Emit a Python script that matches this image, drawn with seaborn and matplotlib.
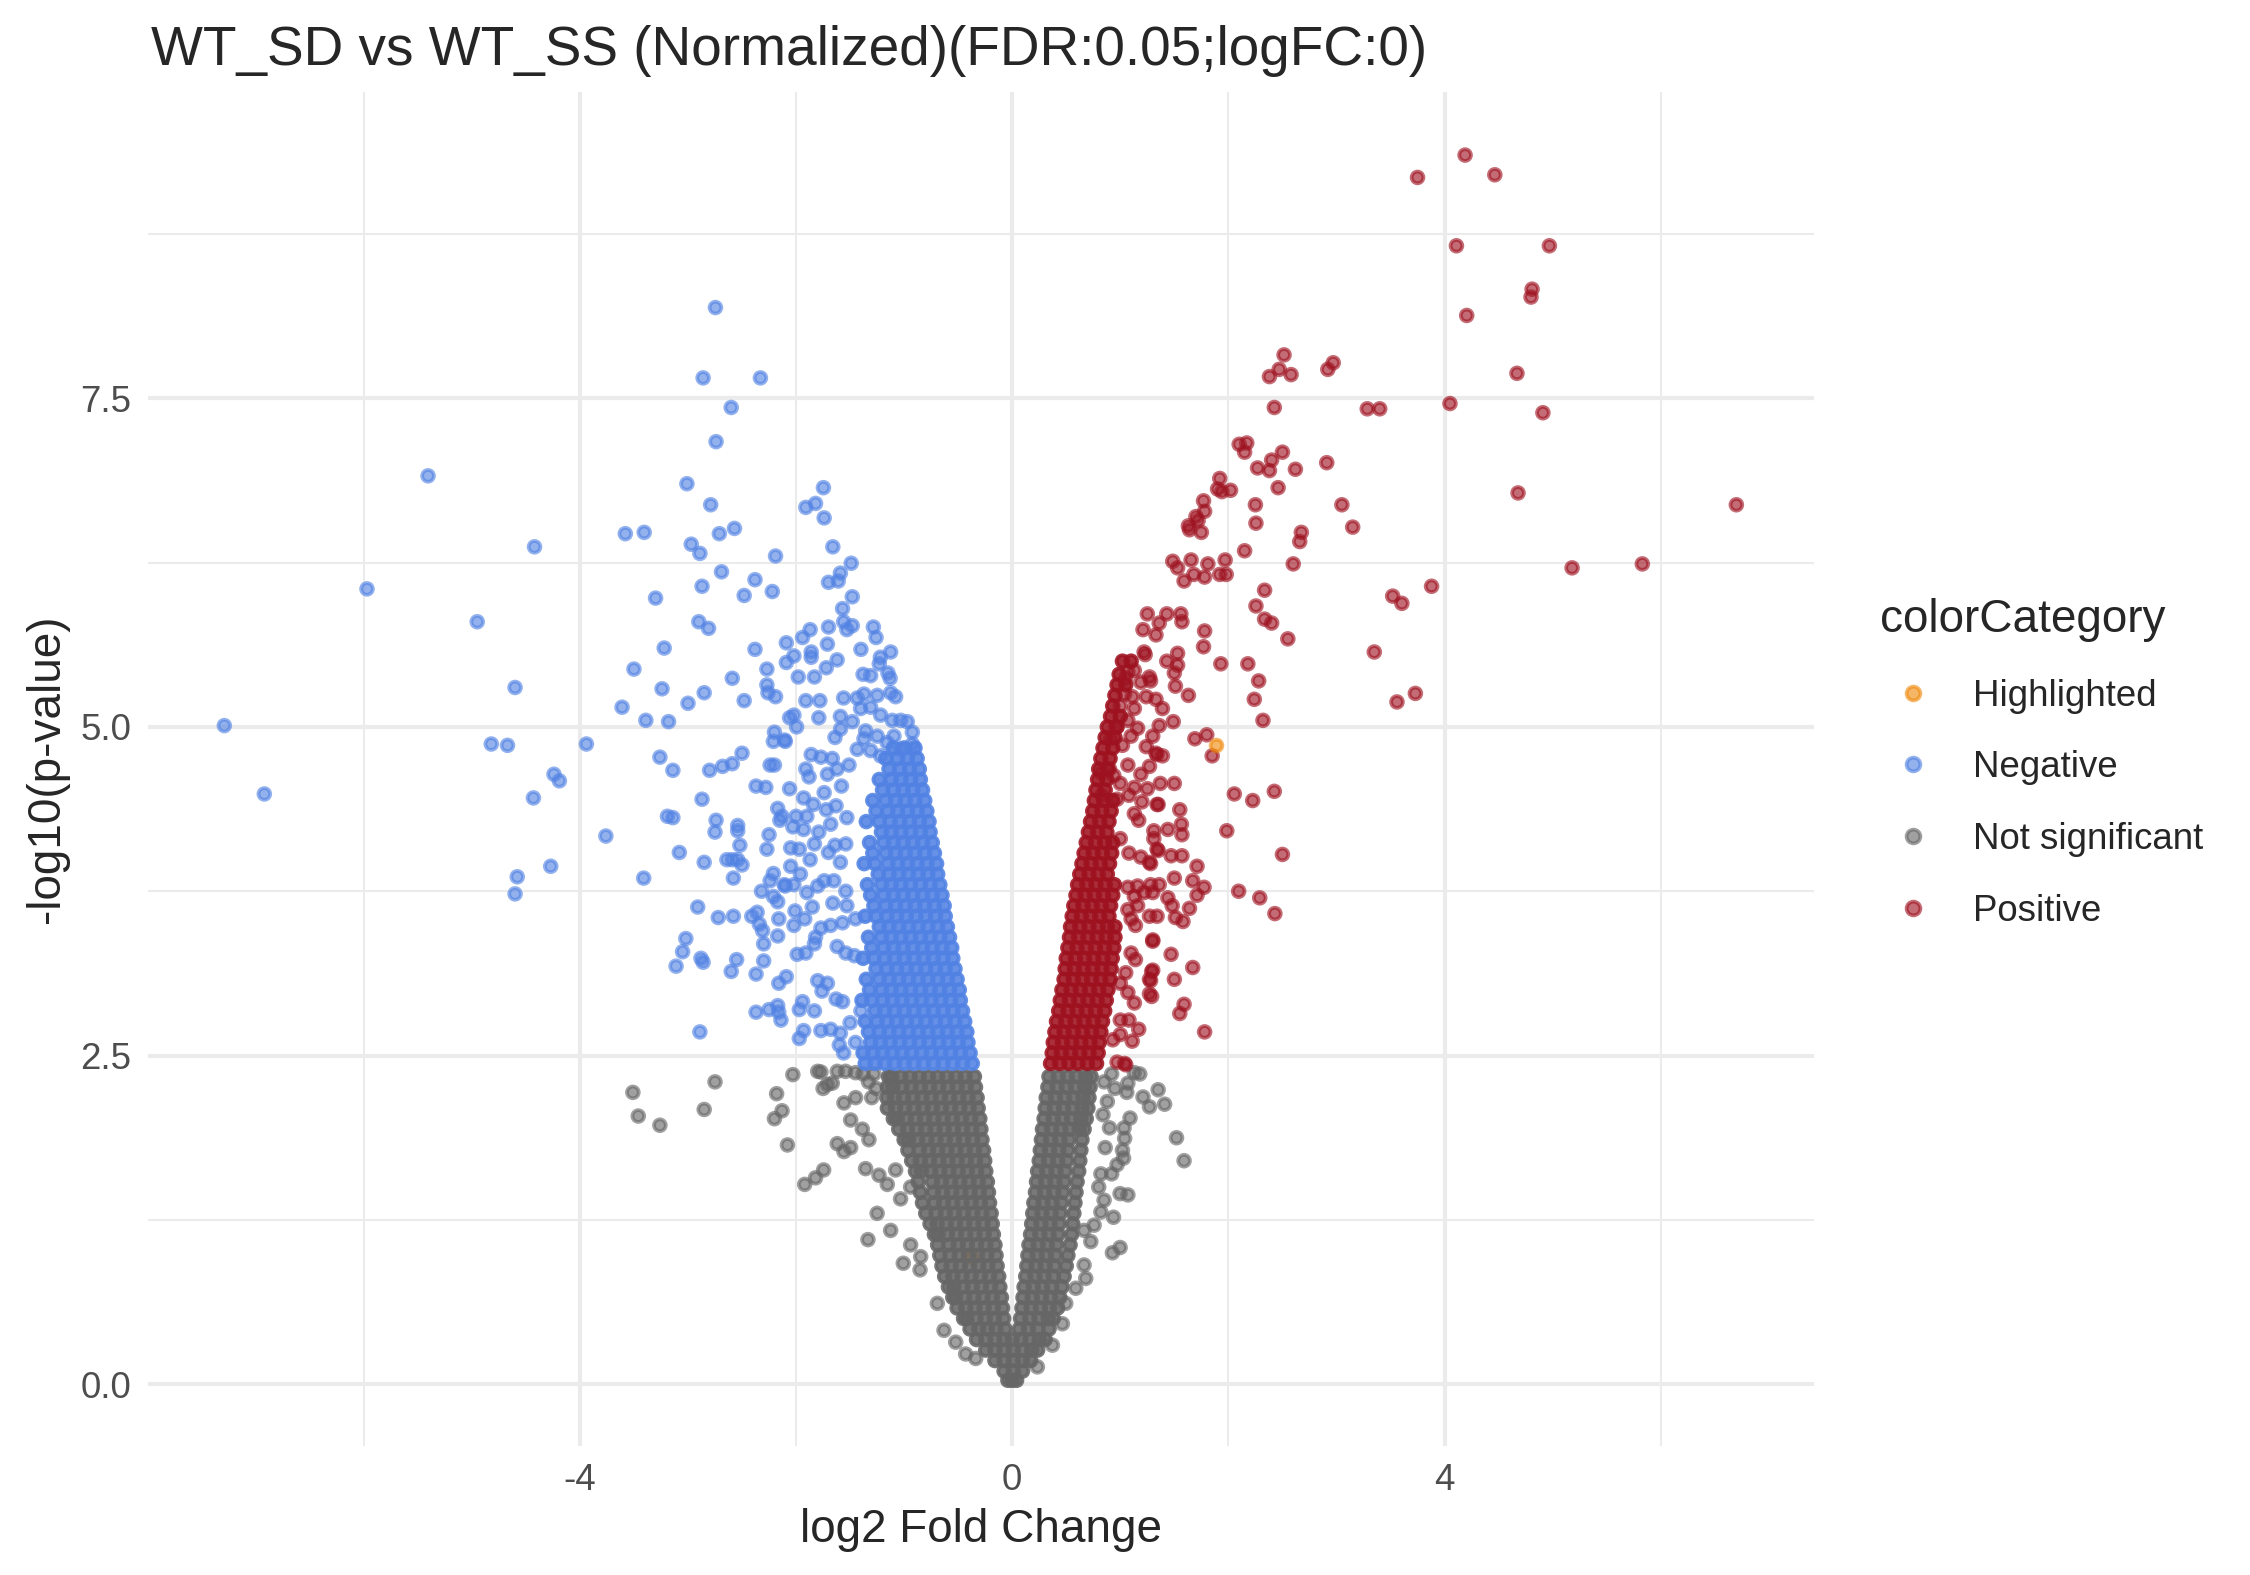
import matplotlib
matplotlib.use("Agg")
import matplotlib.pyplot as plt
from matplotlib.lines import Line2D
import pandas as pd
import seaborn as sns

sns.set_style("white")
plt.rcParams['font.family'] = ['Liberation Sans', 'DejaVu Sans']
plt.rcParams['axes.unicode_minus'] = False

title_text = "WT_SD vs WT_SS (Normalized)(FDR:0.05;logFC:0)"
x_label = "log2 Fold Change"
y_label = "-log10(p-value)"
legend_title = "colorCategory"
categories = ["Highlighted", "Negative", "Not significant", "Positive"]
palette = {"Highlighted": "#F08A0C", "Negative": "#5182E3",
           "Not significant": "#666666", "Positive": "#9E1220"}
x_ticks = [-4, 0, 4]
x_tick_labels = ["-4", "0", "4"]
y_ticks = [0, 2.5, 5, 7.5]
y_tick_labels = ["0.0", "2.5", "5.0", "7.5"]

# ---------------- Highlighted ----------------
hl_hidden = [(-0.385, 0.966)]
hl_visible = [(1.885, 4.86)]

# ---------------- Negative (blue) scattered ----------------
neg_pts = [
    (-5.405, 6.91), (-4.42, 6.37), (-5.97, 6.05), (-4.95, 5.80), (-4.60, 5.30), (-7.29, 5.01),
    (-4.82, 4.87), (-4.67, 4.86), (-3.94, 4.87), (-4.24, 4.64), (-4.19, 4.59), (-4.43, 4.46),
    (-6.92, 4.49), (-4.27, 3.94), (-4.58, 3.86), (-4.60, 3.73),
    (-2.746, 8.19), (-2.86, 7.655), (-2.33, 7.655), (-2.60, 7.43), (-2.74, 7.17), (-3.01, 6.85),
    (-1.747, 6.82), (-2.79, 6.69), (-1.91, 6.67), (-1.82, 6.70), (-1.74, 6.59), (-3.58, 6.47),
    (-3.405, 6.48), (-2.71, 6.47), (-2.57, 6.51), (-2.97, 6.39), (-2.89, 6.32), (-2.19, 6.30),
    (-1.66, 6.37), (-1.49, 6.245), (-2.69, 6.18), (-2.38, 6.12), (-1.59, 6.17), (-1.70, 6.10),
    (-1.61, 6.11), (-2.87, 6.07), (-2.48, 6.00), (-2.22, 6.03), (-3.30, 5.98), (-1.48, 5.99),
    (-1.57, 5.90), (-1.56, 5.80), (-1.48, 5.77), (-1.53, 5.74), (-2.90, 5.80), (-2.81, 5.75),
    (-1.285, 5.76), (-1.26, 5.68), (-1.87, 5.74), (-1.70, 5.76), (-1.94, 5.68), (-2.09, 5.64),
    (-1.71, 5.63), (-3.22, 5.60), (-2.38, 5.59), (-1.40, 5.59), (-1.125, 5.57), (-2.02, 5.54),
    (-1.86, 5.57), (-1.86, 5.53), (-2.09, 5.49), (-1.62, 5.51), (-1.22, 5.53), (-1.23, 5.48),
    (-1.72, 5.45), (-3.50, 5.44), (-2.27, 5.44), (-2.59, 5.37), (-1.98, 5.38), (-1.83, 5.38),
    (-1.38, 5.40), (-1.31, 5.39), (-1.15, 5.41), (-1.13, 5.37), (-3.24, 5.29), (-2.27, 5.32),
    (-2.85, 5.26), (-2.26, 5.26), (-2.19, 5.23), (-2.48, 5.20), (-1.91, 5.20), (-1.78, 5.20),
    (-1.56, 5.22), (-3.00, 5.18), (-3.61, 5.15), (-3.39, 5.05), (-3.18, 5.04), (-2.06, 5.07),
    (-2.02, 5.09), (-1.79, 5.07), (-1.59, 5.08),
    (-3.26, 4.77), (-3.14, 4.67), (-2.80, 4.67), (-2.68, 4.70), (-2.59, 4.72), (-2.50, 4.80),
    (-2.24, 4.71), (-2.20, 4.71), (-2.37, 4.55), (-2.28, 4.54), (-2.87, 4.45), (-3.19, 4.32),
    (-3.14, 4.31), (-3.76, 4.17), (-2.74, 4.29), (-2.75, 4.20), (-2.54, 4.25), (-2.54, 4.21),
    (-2.52, 4.10), (-2.25, 4.18), (-2.27, 4.07), (-2.17, 4.38), (-2.13, 4.32), (-2.15, 4.29),
    (-3.08, 4.045), (-2.85, 3.97), (-2.64, 3.99), (-2.59, 3.99), (-2.54, 3.99), (-2.50, 3.95),
    (-2.58, 3.85), (-3.41, 3.85), (-2.21, 3.885), (-2.24, 3.83), (-2.11, 3.80), (-2.32, 3.75),
    (-2.21, 3.71), (-2.17, 3.67), (-2.91, 3.63), (-2.72, 3.55), (-2.58, 3.56), (-2.41, 3.56),
    (-2.36, 3.59), (-2.34, 3.50), (-2.31, 3.45), (-2.16, 3.54), (-2.17, 3.41), (-2.30, 3.35),
    (-3.02, 3.39), (-3.05, 3.29), (-3.11, 3.18), (-2.88, 3.24), (-2.86, 3.21), (-2.55, 3.23),
    (-2.60, 3.14), (-2.37, 3.12), (-2.30, 3.22), (-2.16, 3.05), (-2.37, 2.83), (-2.25, 2.85),
    (-2.17, 2.88), (-2.16, 2.83), (-2.14, 2.77), (-2.89, 2.68), (-2.20, 4.96), (-2.21, 4.89),
    (-2.10, 4.89),
    (-1.434, 5.22), (-1.995, 5.00), (-2.106, 4.90), (-1.640, 4.92), (-1.86, 4.79), (-1.77, 4.77),
    (-1.665, 4.76), (-1.51, 4.71), (-1.91, 4.68), (-1.88, 4.62), (-1.71, 4.64), (-1.62, 4.68),
    (-2.06, 4.53), (-1.58, 4.55), (-1.74, 4.50), (-1.93, 4.46), (-1.84, 4.41), (-1.63, 4.40),
    (-1.72, 4.37), (-2.00, 4.32), (-1.90, 4.32), (-1.53, 4.31), (-1.68, 4.26), (-2.03, 4.24),
    (-1.93, 4.22), (-1.79, 4.20), (-1.83, 4.11), (-1.64, 4.10), (-2.05, 4.08), (-1.97, 4.07),
    (-1.87, 3.99), (-1.70, 4.045), (-1.54, 4.11), (-1.59, 3.97), (-2.05, 3.94), (-1.96, 3.88),
    (-1.74, 3.83), (-1.80, 3.79), (-1.65, 3.83), (-1.54, 3.75), (-2.10, 3.79), (-2.02, 3.80),
    (-1.90, 3.74), (-1.66, 3.66), (-1.85, 3.63), (-1.53, 3.64), (-2.01, 3.60), (-1.92, 3.54),
    (-2.02, 3.49), (-1.77, 3.47), (-1.82, 3.40), (-1.68, 3.49), (-1.57, 3.51), (-1.45, 3.54),
    (-1.99, 3.27), (-1.91, 3.28), (-1.83, 3.35), (-1.62, 3.33), (-1.54, 3.28), (-1.46, 3.26),
    (-2.09, 3.10), (-1.80, 3.07), (-1.71, 3.05), (-1.76, 2.99), (-1.63, 2.93), (-1.57, 2.91),
    (-1.94, 2.91), (-1.97, 2.85), (-1.83, 2.84), (-1.40, 2.84), (-1.93, 2.69), (-1.97, 2.63),
    (-1.77, 2.69), (-1.68, 2.70), (-1.59, 2.67), (-1.50, 2.75), (-1.60, 2.58), (-1.56, 2.52),
    (-1.45, 2.60),
    (-1.372, 5.25), (-1.249, 5.24), (-1.125, 5.26), (-1.079, 5.23), (-1.403, 5.14), (-1.31, 5.15),
    (-1.218, 5.09), (-1.11, 5.05), (-1.032, 5.05), (-0.924, 4.96), (-0.971, 5.04), (-1.588, 4.985),
    (-1.48, 5.04), (-1.356, 4.97), (-1.372, 4.91), (-1.249, 4.93), (-1.156, 4.88), (-1.032, 4.83),
    (-0.924, 4.87), (-1.434, 4.83), (-1.31, 4.82), (-1.218, 4.78), (-1.094, 4.93),
]

# dense blue wedge, read row by row: (y, [x ...])
neg_rows = [
    (2.44, [-0.37, -0.46, -0.55, -0.64, -0.73, -0.82, -0.91, -1.00, -1.09, -1.18, -1.27, -1.36]),
    (2.52, [-0.39, -0.48, -0.57, -0.66, -0.75, -0.84, -0.93, -1.02, -1.11, -1.20, -1.29, -1.38]),
    (2.60, [-0.41, -0.50, -0.59, -0.68, -0.77, -0.86, -0.95, -1.04, -1.13, -1.22, -1.31]),
    (2.68, [-0.42, -0.51, -0.60, -0.69, -0.78, -0.87, -0.96, -1.05, -1.14, -1.23, -1.33]),
    (2.76, [-0.44, -0.53, -0.62, -0.71, -0.80, -0.89, -0.98, -1.07, -1.16, -1.25, -1.36]),
    (2.84, [-0.46, -0.55, -0.64, -0.73, -0.82, -0.91, -1.00, -1.09, -1.18, -1.27]),
    (2.92, [-0.48, -0.57, -0.66, -0.75, -0.84, -0.93, -1.02, -1.11, -1.20, -1.30, -1.39]),
    (3.00, [-0.49, -0.58, -0.67, -0.76, -0.85, -0.94, -1.03, -1.12, -1.21, -1.32]),
    (3.08, [-0.51, -0.60, -0.69, -0.78, -0.87, -0.96, -1.05, -1.14, -1.23, -1.35]),
    (3.16, [-0.53, -0.62, -0.71, -0.80, -0.89, -0.98, -1.07, -1.16, -1.26]),
    (3.24, [-0.55, -0.64, -0.73, -0.82, -0.91, -1.00, -1.09, -1.18, -1.28, -1.38]),
    (3.32, [-0.56, -0.65, -0.74, -0.83, -0.92, -1.01, -1.10, -1.19, -1.30]),
    (3.40, [-0.58, -0.67, -0.76, -0.85, -0.94, -1.03, -1.12, -1.21, -1.33]),
    (3.48, [-0.60, -0.69, -0.78, -0.87, -0.96, -1.05, -1.14, -1.23]),
    (3.56, [-0.62, -0.71, -0.80, -0.89, -0.98, -1.07, -1.16, -1.26, -1.36]),
    (3.64, [-0.63, -0.72, -0.81, -0.90, -0.99, -1.08, -1.17, -1.28]),
    (3.72, [-0.65, -0.74, -0.83, -0.92, -1.01, -1.10, -1.19, -1.31]),
    (3.80, [-0.67, -0.76, -0.85, -0.94, -1.03, -1.12, -1.21, -1.34]),
    (3.88, [-0.69, -0.78, -0.87, -0.96, -1.05, -1.14, -1.24]),
    (3.96, [-0.70, -0.79, -0.88, -0.97, -1.06, -1.15, -1.27, -1.37]),
    (4.04, [-0.72, -0.81, -0.90, -0.99, -1.08, -1.17, -1.29]),
    (4.12, [-0.74, -0.83, -0.92, -1.01, -1.10, -1.19, -1.32]),
    (4.20, [-0.76, -0.85, -0.94, -1.03, -1.12, -1.21]),
    (4.28, [-0.77, -0.86, -0.95, -1.04, -1.13, -1.23, -1.35]),
    (4.36, [-0.79, -0.88, -0.97, -1.06, -1.15, -1.26]),
    (4.44, [-0.81, -0.90, -0.99, -1.08, -1.17, -1.29]),
    (4.52, [-0.83, -0.92, -1.01, -1.10, -1.20]),
    (4.60, [-0.85, -0.94, -1.03, -1.12, -1.23]),
    (4.68, [-0.86, -0.95, -1.04, -1.14]),
    (4.76, [-0.88, -0.97, -1.06, -1.17]),
    (4.84, [-0.90, -1.00, -1.10]),
]

# ---------------- Positive (red) scattered ----------------
pos_pts = [
    (4.19, 9.35), (3.75, 9.18), (4.465, 9.20), (4.11, 8.66), (4.97, 8.66), (4.81, 8.33),
    (4.80, 8.27), (4.205, 8.13), (2.515, 7.83), (2.47, 7.72), (2.38, 7.665), (2.58, 7.68),
    (2.92, 7.72), (2.97, 7.77), (4.67, 7.69), (2.425, 7.43), (3.285, 7.42), (3.40, 7.42),
    (4.05, 7.46), (4.91, 7.39), (2.10, 7.15), (2.17, 7.16), (2.15, 7.09), (2.50, 7.09),
    (2.40, 7.03), (2.27, 6.97), (2.38, 6.95), (2.62, 6.96), (2.91, 7.01), (1.92, 6.89),
    (1.90, 6.81), (1.94, 6.79), (2.02, 6.80), (2.46, 6.82), (4.68, 6.78), (6.70, 6.69),
    (1.77, 6.72), (1.78, 6.64), (1.70, 6.60), (1.72, 6.57), (1.63, 6.53), (1.64, 6.50),
    (1.75, 6.48), (2.25, 6.69), (2.255, 6.55), (3.05, 6.69), (3.15, 6.52), (2.675, 6.48),
    (2.66, 6.41), (2.15, 6.34), (2.60, 6.24), (1.485, 6.26), (1.53, 6.21), (1.655, 6.27),
    (1.81, 6.24), (1.97, 6.27), (1.59, 6.11), (1.68, 6.16), (1.78, 6.14), (1.92, 6.16),
    (1.98, 6.16), (5.18, 6.21), (5.83, 6.24), (3.88, 6.07), (3.52, 5.995), (3.605, 5.94),
    (2.335, 6.04), (2.255, 5.92), (2.335, 5.82), (2.40, 5.79), (2.55, 5.67), (1.25, 5.86),
    (1.43, 5.86), (1.56, 5.86), (1.36, 5.79), (1.57, 5.80), (1.21, 5.74), (1.33, 5.70),
    (1.78, 5.73),
    (1.22, 5.57), (1.23, 5.55), (1.07, 5.42), (1.13, 5.43), (1.05, 5.37), (1.19, 5.34),
    (1.04, 5.25), (1.11, 5.23), (1.24, 5.23), (1.00, 5.16), (1.13, 5.14), (0.96, 5.00),
    (1.07, 5.05), (1.16, 4.99), (0.91, 4.91), (1.02, 4.86), (1.10, 4.93), (1.24, 4.85),
    (0.82, 4.65), (0.90, 4.68), (0.94, 4.63), (1.07, 4.71), (1.19, 4.64), (1.00, 4.57),
    (1.13, 4.54), (0.83, 4.48), (0.97, 4.45), (1.08, 4.48), (1.20, 4.43), (1.13, 4.34),
    (1.17, 4.29), (1.00, 4.15), (1.08, 4.04), (1.19, 4.01), (1.07, 3.78), (1.16, 3.79),
    (1.13, 3.71), (1.22, 3.74), (1.07, 3.61), (1.16, 3.64), (1.14, 3.49), (1.10, 3.54),
    (1.10, 3.28), (1.14, 3.23), (1.05, 3.13), (1.00, 3.05), (1.07, 2.98), (1.13, 2.90),
    (1.00, 2.77), (1.08, 2.77), (1.17, 2.70), (1.11, 2.61), (1.00, 2.66), (0.93, 2.62),
    (1.04, 2.44), (0.97, 2.45), (1.05, 2.43),
    (3.35, 5.57), (3.56, 5.19), (3.73, 5.255), (2.18, 5.48), (2.28, 5.35), (2.24, 5.21),
    (2.32, 5.05), (1.93, 5.48), (1.77, 5.61), (1.63, 5.24), (1.69, 4.91), (1.80, 4.94),
    (1.85, 4.78), (2.055, 4.49), (2.225, 4.44), (2.425, 4.51), (1.985, 4.21), (2.50, 4.03),
    (1.71, 3.94), (2.095, 3.75), (2.29, 3.70), (2.43, 3.58), (1.50, 3.85), (1.67, 3.83),
    (1.775, 3.78), (1.71, 3.72), (1.64, 3.62), (1.47, 3.27), (1.67, 3.17), (1.50, 3.08),
    (1.59, 2.89), (1.55, 2.82), (1.78, 2.68), (1.29, 3.14), (1.28, 3.07), (1.29, 2.95),
    (1.50, 4.57), (1.55, 4.37), (1.565, 4.26), (1.57, 4.18), (1.44, 4.22), (1.47, 4.02),
    (1.57, 4.02), (1.35, 4.41), (1.31, 4.21), (1.35, 4.06), (1.28, 3.96), (1.44, 3.70),
    (1.48, 3.64), (1.51, 3.55), (1.58, 3.52), (1.34, 3.56), (1.30, 3.37), (1.53, 5.56),
    (1.43, 5.50), (1.53, 5.47), (1.50, 5.41), (1.51, 5.31), (1.49, 5.04), (1.30, 4.93),
    (1.39, 4.78), (1.33, 4.80), (1.25, 4.53),
    (1.27, 5.38), (1.28, 5.35), (1.33, 5.21), (1.39, 5.14), (1.36, 5.01), (1.34, 4.79),
    (1.27, 4.70), (1.37, 4.57), (1.34, 4.41), (1.31, 4.15), (1.34, 4.07), (1.27, 3.97),
    (1.28, 3.80), (1.36, 3.80), (1.30, 3.74), (1.27, 3.56), (1.30, 3.38), (1.30, 3.15),
    (1.27, 3.08), (1.27, 2.97),
]

# dense red wedge, read row by row: (y, [x ...])
pos_rows = [
    (2.44, [0.355, 0.44, 0.525, 0.61, 0.695, 0.78]),
    (2.52, [0.37, 0.455, 0.54, 0.625, 0.71, 0.795]),
    (2.60, [0.38, 0.465, 0.55, 0.635, 0.72, 0.805]),
    (2.68, [0.395, 0.48, 0.565, 0.65, 0.735, 0.82]),
    (2.76, [0.41, 0.495, 0.58, 0.665, 0.75, 0.835]),
    (2.84, [0.43, 0.515, 0.60, 0.685, 0.77, 0.855]),
    (2.92, [0.445, 0.53, 0.615, 0.70, 0.785, 0.87]),
    (3.00, [0.46, 0.545, 0.63, 0.715, 0.80, 0.885]),
    (3.08, [0.48, 0.565, 0.65, 0.735, 0.82, 0.905]),
    (3.16, [0.49, 0.575, 0.66, 0.745, 0.83, 0.915]),
    (3.24, [0.50, 0.585, 0.67, 0.755, 0.84, 0.925]),
    (3.32, [0.515, 0.60, 0.685, 0.77, 0.855, 0.94]),
    (3.40, [0.53, 0.615, 0.70, 0.785, 0.87, 0.95]),
    (3.48, [0.54, 0.625, 0.71, 0.795, 0.88, 0.95]),
    (3.56, [0.555, 0.64, 0.725, 0.81, 0.895]),
    (3.64, [0.57, 0.655, 0.74, 0.825, 0.91]),
    (3.72, [0.59, 0.675, 0.76, 0.845, 0.93]),
    (3.80, [0.605, 0.69, 0.775, 0.86, 0.945]),
    (3.88, [0.625, 0.71, 0.795, 0.88]),
    (3.96, [0.645, 0.73, 0.815, 0.90]),
    (4.04, [0.665, 0.75, 0.835, 0.92]),
    (4.12, [0.685, 0.77, 0.855, 0.93]),
    (4.20, [0.705, 0.79, 0.875]),
    (4.28, [0.725, 0.81, 0.895]),
    (4.36, [0.745, 0.83, 0.915]),
    (4.44, [0.76, 0.845, 0.93]),
    (4.52, [0.775, 0.86]),
    (4.60, [0.79, 0.875]),
    (4.68, [0.80, 0.885]),
    (4.76, [0.82, 0.905]),
    (4.84, [0.84, 0.93]),
    (4.92, [0.86, 0.95]),
    (5.00, [0.88, 0.97]),
    (5.08, [0.91, 1.00]),
    (5.16, [0.93]),
    (5.24, [0.95]),
    (5.32, [0.97, 1.05]),
    (5.40, [0.99]),
    (5.50, [1.02, 1.10]),
]

# ---------------- Not significant (grey) scattered ----------------
ns_pts = [
    (-1.619, 2.38), (-1.542, 2.38), (-1.665, 2.29), (-1.557, 2.14), (-1.449, 2.18), (-1.495, 2.01),
    (-1.387, 1.94), (-1.326, 1.86), (-1.619, 1.83), (-1.557, 1.77), (-1.495, 1.80), (-1.357, 1.64),
    (-1.233, 1.59), (-1.156, 1.52), (-1.079, 1.63), (-1.033, 1.41), (-0.94, 1.50), (-1.25, 1.30),
    (-1.125, 1.17), (-1.335, 1.10), (-1.008, 0.92), (-0.94, 1.06), (-0.847, 0.97), (-0.853, 0.87),
    (-0.693, 0.615), (-0.631, 0.41), (-0.523, 0.32), (-0.431, 0.23), (-0.338, 0.196),
    (0.758, 1.21), (0.665, 1.17), (0.727, 1.085), (0.665, 0.907), (0.68, 0.805), (0.588, 0.73),
    (0.495, 0.615), (0.464, 0.46), (0.372, 0.297), (0.233, 0.132),
    (1.35, 2.24), (1.41, 2.13), (1.21, 2.185), (1.27, 2.11), (1.13, 2.37), (1.18, 2.36),
    (1.07, 2.29), (1.06, 2.22), (1.09, 2.025), (1.035, 1.95), (1.04, 1.87), (1.52, 1.875),
    (1.59, 1.70), (1.02, 1.78), (1.03, 1.72), (0.97, 1.67), (0.998, 1.45), (1.07, 1.44),
    (0.85, 1.40), (0.937, 1.27), (0.82, 1.31), (0.998, 1.04), (0.927, 1.00),
    (0.85, 2.30), (0.92, 2.36), (0.88, 2.15), (0.95, 2.25), (0.84, 2.05), (0.90, 1.95),
    (0.86, 1.80), (0.92, 1.60), (0.82, 1.60), (0.80, 1.50),
    (-3.51, 2.22), (-3.46, 2.04), (-3.26, 1.97), (-2.85, 2.09), (-2.75, 2.30), (-2.18, 2.21),
    (-2.13, 2.08), (-2.20, 2.02), (-2.03, 2.355), (-2.08, 1.82), (-1.92, 1.52), (-1.82, 1.57),
    (-1.745, 1.63), (-1.80, 2.38), (-1.77, 2.375), (-1.75, 2.25), (-1.71, 2.28),
    (-1.28, 2.36), (-1.33, 2.30), (-1.26, 2.25), (-1.30, 2.18), (-1.38, 2.36), (-1.45, 2.37),
]

# dense grey V, read row by row: (y, [x ...])
ns_rows = [
    (0.03, [-0.04, 0.00, 0.04]),
    (0.10, [-0.075, 0.01, 0.095]),
    (0.18, [-0.16, -0.075, 0.01, 0.095, 0.17]),
    (0.26, [-0.245, -0.16, -0.075, 0.01, 0.095, 0.18, 0.235]),
    (0.34, [-0.33, -0.245, -0.16, -0.075, 0.00, 0.08, 0.165, 0.25, 0.305]),
    (0.42, [-0.39, -0.31, -0.23, -0.15, -0.067, 0.066, 0.15, 0.235, 0.34]),
    (0.50, [-0.08, -0.165, -0.25, -0.335, -0.42, -0.45, 0.078, 0.163, 0.248, 0.333, 0.38]),
    (0.58, [-0.09, -0.175, -0.26, -0.345, -0.43, -0.51, 0.09, 0.175, 0.26, 0.345, 0.42]),
    (0.66, [-0.10, -0.185, -0.27, -0.355, -0.44, -0.525, -0.55, 0.10, 0.185, 0.27, 0.355, 0.44]),
    (0.74, [-0.115, -0.20, -0.285, -0.37, -0.455, -0.54, -0.59, 0.11, 0.195, 0.28, 0.365, 0.46]),
    (0.82, [-0.125, -0.21, -0.295, -0.38, -0.465, -0.55, -0.625, 0.125, 0.21, 0.295, 0.38, 0.48]),
    (0.90, [-0.14, -0.225, -0.31, -0.395, -0.48, -0.565, -0.65, 0.135, 0.22, 0.305, 0.39, 0.50]),
    (0.98, [-0.15, -0.235, -0.32, -0.405, -0.49, -0.575, -0.67, 0.145, 0.23, 0.315, 0.40, 0.515]),
    (1.06, [-0.16, -0.245, -0.33, -0.415, -0.50, -0.585, -0.69, 0.155, 0.24, 0.325, 0.41, 0.535]),
    (1.14, [-0.175, -0.26, -0.345, -0.43, -0.515, -0.60, -0.685, -0.72, 0.17, 0.255, 0.34, 0.425, 0.55]),
    (1.22, [-0.185, -0.27, -0.355, -0.44, -0.525, -0.61, -0.695, -0.76, 0.18, 0.265, 0.35, 0.435, 0.56]),
    (1.30, [-0.195, -0.28, -0.365, -0.45, -0.535, -0.62, -0.705, -0.80, 0.19, 0.275, 0.36, 0.445, 0.57]),
    (1.38, [-0.21, -0.295, -0.38, -0.465, -0.55, -0.635, -0.72, -0.83, 0.20, 0.285, 0.37, 0.455, 0.58]),
    (1.46, [-0.22, -0.305, -0.39, -0.475, -0.56, -0.645, -0.73, -0.85, 0.215, 0.30, 0.385, 0.47, 0.59]),
    (1.54, [-0.23, -0.315, -0.40, -0.485, -0.57, -0.655, -0.74, -0.87, 0.225, 0.31, 0.395, 0.48, 0.60]),
    (1.62, [-0.245, -0.33, -0.415, -0.50, -0.585, -0.67, -0.755, -0.84, -0.895,
            0.235, 0.32, 0.405, 0.49, 0.615]),
    (1.70, [-0.255, -0.34, -0.425, -0.51, -0.595, -0.68, -0.765, -0.85, -0.93,
            0.25, 0.335, 0.42, 0.505, 0.625]),
    (1.78, [-0.265, -0.35, -0.435, -0.52, -0.605, -0.69, -0.775, -0.86, -0.965,
            0.26, 0.345, 0.43, 0.515, 0.635]),
    (1.86, [-0.28, -0.365, -0.45, -0.535, -0.62, -0.705, -0.79, -0.875, -0.96, -1.00,
            0.27, 0.355, 0.44, 0.525, 0.645]),
    (1.94, [-0.29, -0.375, -0.46, -0.545, -0.63, -0.715, -0.80, -0.885, -0.97, -1.05,
            0.28, 0.365, 0.45, 0.535, 0.62, 0.665]),
    (2.02, [-0.30, -0.385, -0.47, -0.555, -0.64, -0.725, -0.81, -0.895, -0.98, -1.065, -1.10,
            0.295, 0.38, 0.465, 0.55, 0.635, 0.685]),
    (2.10, [-0.315, -0.40, -0.485, -0.57, -0.655, -0.74, -0.825, -0.91, -0.995, -1.08, -1.155,
            0.305, 0.39, 0.475, 0.56, 0.645, 0.70]),
    (2.18, [-0.325, -0.41, -0.495, -0.58, -0.665, -0.75, -0.835, -0.92, -1.005, -1.09, -1.16,
            0.315, 0.40, 0.485, 0.57, 0.655, 0.71]),
    (2.26, [-0.34, -0.425, -0.51, -0.595, -0.68, -0.765, -0.85, -0.935, -1.02, -1.105, -1.155,
            0.33, 0.415, 0.50, 0.585, 0.67, 0.72]),
    (2.34, [-0.35, -0.435, -0.52, -0.605, -0.69, -0.775, -0.86, -0.945, -1.03, -1.115, -1.145,
            0.34, 0.425, 0.51, 0.595, 0.68, 0.73]),
]


def collect(points, label):
    return pd.DataFrame([(x, y, label) for x, y in points],
                        columns=["log2FC", "negLog10P", "colorCategory"])


def collect_rows(rows, label):
    recs = []
    for y, xs in rows:
        recs.extend((x, y) for x in xs)
    return collect(recs, label)


# drawing order: (frame, alpha) -- dense cores stand for thousands of overlapping genes
layers = [
    (collect(hl_hidden, "Highlighted"), 0.62),
    (collect_rows(ns_rows, "Not significant"), 0.88),
    (collect(ns_pts, "Not significant"), 0.62),
    (collect_rows(neg_rows, "Negative"), 0.88),
    (collect(neg_pts, "Negative"), 0.62),
    (collect_rows(pos_rows, "Positive"), 0.88),
    (collect(pos_pts, "Positive"), 0.62),
    (collect(hl_visible, "Highlighted"), 0.62),
]

fig = plt.figure(figsize=(7.5, 5.25), dpi=300)
ax = fig.add_axes([0.0656, 0.0819, 0.7407, 0.8597])

for frame, a in layers:
    sns.scatterplot(data=frame, x="log2FC", y="negLog10P", hue="colorCategory",
                    hue_order=categories, palette=palette, s=8, alpha=a,
                    edgecolor="face", linewidth=0.9, legend=False, ax=ax, zorder=3)

ax.set_xlim(-8.0, 7.42)
ax.set_ylim(-0.47, 9.83)
ax.set_xticks(x_ticks)
ax.set_xticklabels(x_tick_labels)
ax.set_yticks(y_ticks)
ax.set_yticklabels(y_tick_labels)
ax.set_xticks([-6, -2, 2, 6], minor=True)
ax.set_yticks([1.25, 3.75, 6.25, 8.75], minor=True)
ax.grid(which="major", color="#EBEBEB", linewidth=1.0)
ax.grid(which="minor", color="#EBEBEB", linewidth=0.5)
ax.set_axisbelow(True)
for sp in ax.spines.values():
    sp.set_visible(False)
ax.tick_params(which="both", length=0)
ax.tick_params(axis="both", which="major", labelsize=8.8, labelcolor="#4D4D4D", pad=4)
ax.set_xlabel("")
ax.set_ylabel("")

fig.text(151 / 2250, 1 - 65 / 1575, title_text, fontsize=13.2, ha="left", va="baseline")
fig.text(0.436, 1 - 1530 / 1575, x_label, fontsize=11, ha="center", va="center")
fig.text(47 / 2250, 0.0819 + 0.8597 / 2, y_label, fontsize=11, ha="center", va="center",
         rotation=90)

handles = [Line2D([], [], marker="o", linestyle="", markersize=3.3,
                  markerfacecolor=palette[c], markeredgecolor=palette[c],
                  markeredgewidth=0.9, alpha=0.62) for c in categories]
leg = fig.legend(handles, categories, loc="upper left",
                 bbox_to_anchor=(1880 / 2250, 1 - 598 / 1575),
                 bbox_transform=fig.transFigure, frameon=False,
                 title=legend_title, title_fontsize=11, fontsize=8.8,
                 handlelength=1.8, handletextpad=0.74, labelspacing=1.0,
                 borderpad=0, borderaxespad=0, alignment="left")

fig.savefig("out.png", dpi=300)
